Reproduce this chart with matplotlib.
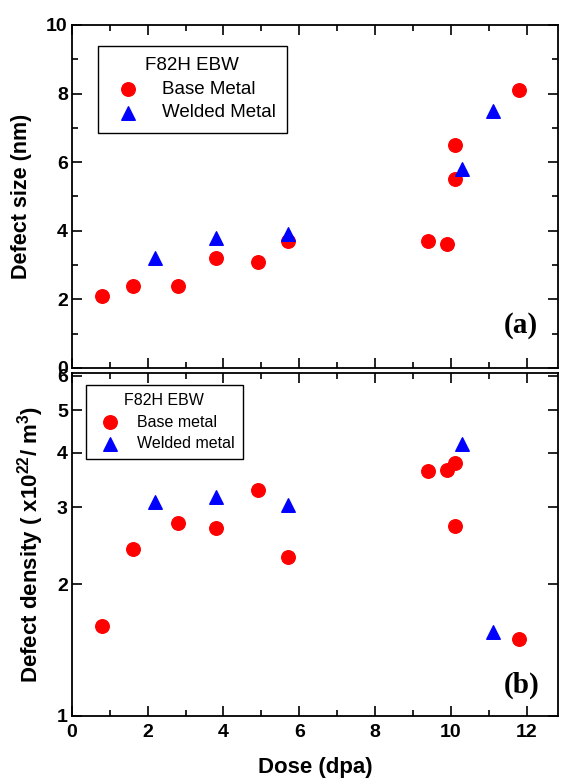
import numpy as np
import matplotlib.pyplot as plt
from matplotlib.ticker import FixedLocator, NullLocator, MultipleLocator

# (a) defect size, nm
base_dose = [0.8, 1.6, 2.8, 3.8, 4.9, 5.7, 9.4, 9.9, 10.1, 10.1, 11.8]
base_size = [2.1, 2.4, 2.4, 3.2, 3.1, 3.7, 3.7, 3.6, 6.5, 5.5, 8.1]
weld_dose = [2.2, 3.8, 5.7, 10.3, 11.1]
weld_size = [3.2, 3.8, 3.9, 5.8, 7.5]

# (b) defect density, x10^22 / m^3
base_dens = [1.61, 2.41, 2.76, 2.69, 3.29, 2.31, 3.63, 3.66, 3.78, 2.72, 1.50]
weld_dens = [3.09, 3.16, 3.04, 4.19, 1.56]

plt.rcParams['font.family'] = ['Liberation Sans', 'DejaVu Sans']
plt.rcParams['mathtext.fontset'] = 'custom'
plt.rcParams['mathtext.rm'] = 'Liberation Sans:bold'
plt.rcParams['mathtext.bf'] = 'Liberation Sans:bold'

fig = plt.figure(figsize=(5.62, 7.79), dpi=100)
ax1 = fig.add_axes([0.128, 0.5276, 0.865, 0.4404])
ax2 = fig.add_axes([0.128, 0.0809, 0.865, 0.4409])

ms = 95
ax1.scatter(base_dose, base_size, s=ms, marker='o', color='red', label='Base Metal', zorder=3)
ax1.scatter(weld_dose, weld_size, s=ms, marker='^', color='blue', label='Welded Metal', zorder=3)
ax2.scatter(base_dose, base_dens, s=ms, marker='o', color='red', label='Base metal', zorder=3)
ax2.scatter(weld_dose, weld_dens, s=ms, marker='^', color='blue', label='Welded metal', zorder=3)

for ax in (ax1, ax2):
    ax.set_xlim(0, 12.83)
    ax.xaxis.set_major_locator(MultipleLocator(2))
    ax.xaxis.set_minor_locator(MultipleLocator(1))
    for sp in ax.spines.values():
        sp.set_linewidth(1.3)
    ax.tick_params(which='both', direction='in', top=True, right=True, width=1.2, pad=3)
    ax.tick_params(which='major', length=7)
    ax.tick_params(which='minor', length=4)
    ax.tick_params(labelsize=14)
    for lab in ax.get_xticklabels() + ax.get_yticklabels():
        lab.set_fontweight('bold')

ax1.set_ylim(0, 10)
ax1.yaxis.set_major_locator(MultipleLocator(2))
ax1.yaxis.set_minor_locator(MultipleLocator(1))
ax1.tick_params(labelbottom=False)
ax1.set_ylabel('Defect size (nm)', fontsize=15.5, fontweight='bold', labelpad=10)

ax2.set_yscale('log')
ax2.set_ylim(1, 6.1)
ax2.yaxis.set_major_locator(FixedLocator([1, 2, 3, 4, 5, 6]))
ax2.yaxis.set_minor_locator(NullLocator())
ax2.set_yticklabels(['1', '2', '3', '4', '5', '6'], fontweight='bold', fontsize=14)
ax2.set_xticks([0, 2, 4, 6, 8, 10, 12])
ax2.set_xticklabels(['0', '2', '4', '6', '8', '10', '12'], fontweight='bold', fontsize=14)
ax2.tick_params(axis='x', which='both', bottom=True, direction='out', pad=6)
ax2.tick_params(axis='x', which='both', top=True, direction='in')
ax2.set_ylabel(r'Defect density ( x10$^{22}$/ m$^{3}$)', fontsize=16, fontweight='bold', labelpad=8)
ax2.set_xlabel('Dose (dpa)', fontsize=16, fontweight='bold', labelpad=11)

leg1 = ax1.legend(title='F82H EBW', loc='upper left', bbox_to_anchor=(0.0535, 0.939),
                  fontsize=13.5, title_fontsize=13.5, fancybox=False, edgecolor='black',
                  framealpha=1, handletextpad=0.8, borderpad=0.6, labelspacing=0.35,
                  borderaxespad=0)
leg1.get_frame().set_linewidth(1.0)
leg2 = ax2.legend(title='F82H EBW', loc='upper left', bbox_to_anchor=(0.029, 0.963),
                  fontsize=11.5, title_fontsize=11.5, fancybox=False, edgecolor='black',
                  framealpha=1, handletextpad=0.7, borderpad=0.5, labelspacing=0.4,
                  borderaxespad=0)
leg2.get_frame().set_linewidth(1.0)

ax1.text(0.958, 0.125, '(a)', transform=ax1.transAxes, ha='right', va='center',
         fontsize=21, fontweight='bold', family=['Liberation Serif', 'DejaVu Serif'])
ax2.text(0.962, 0.09, '(b)', transform=ax2.transAxes, ha='right', va='center',
         fontsize=21, fontweight='bold', family=['Liberation Serif', 'DejaVu Serif'])

fig.savefig('out.png', dpi=100)
